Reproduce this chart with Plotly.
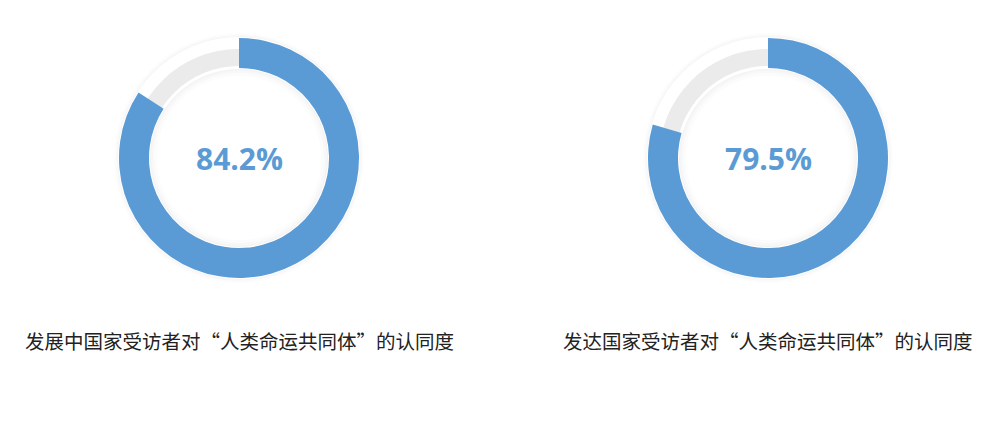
import plotly.graph_objects as go

# Data
labels = ["发展中国家受访者对“人类命运共同体”的认同度", "发达国家受访者对“人类命运共同体”的认同度"]
shares = [84.2, 79.5]

BLUE = "#5b9bd5"
GREY = "#ebebeb"
OFF = 8  # page body margin
W, H = 1000 - OFF, 447 - OFF

centers = [(239, 158), (768, 158)]
R_BLUE, R_GREY = 120, 109


def dom(cx, cy, r):
    cx, cy = cx - OFF, cy - OFF
    return dict(x=[(cx - r) / W, (cx + r) / W], y=[1 - (cy + r) / H, 1 - (cy - r) / H])


def ring(cx, cy, r_out, r_in, color):
    return go.Pie(
        values=[1], domain=dom(cx, cy, r_out), hole=r_in / r_out,
        marker=dict(colors=[color], line=dict(width=0)),
        textinfo="none", hoverinfo="skip", sort=False, showlegend=False,
    )


fig = go.Figure()
for (cx, cy), share, label in zip(centers, shares, labels):
    # soft shadow
    fig.add_trace(ring(cx, cy, 125, 82, "rgba(0,0,0,0.012)"))
    fig.add_trace(ring(cx, cy, 123, 85, "rgba(0,0,0,0.015)"))
    fig.add_trace(ring(cx, cy, 121.5, 87.5, "rgba(0,0,0,0.02)"))
    fig.add_trace(ring(cx, cy, 121, 89, "white"))
    # background track
    fig.add_trace(ring(cx, cy, R_GREY, 92, GREY))
    # value arc
    fig.add_trace(go.Pie(
        values=[share, 100 - share], domain=dom(cx, cy, R_BLUE), hole=90 / R_BLUE,
        marker=dict(colors=[BLUE, "rgba(0,0,0,0)"], line=dict(width=0)),
        direction="clockwise", rotation=0, sort=False,
        textinfo="none", hoverinfo="skip", showlegend=False,
    ))
    fig.add_annotation(
        x=(cx - OFF) / W, y=1 - (cy - OFF) / H, xref="paper", yref="paper",
        xanchor="center", yanchor="middle",
        text=f"<b>{share}%</b>", showarrow=False,
        font=dict(family="Open Sans", size=30, color=BLUE),
    )
    fig.add_annotation(
        x=(cx - OFF) / W, y=1 - (340 - OFF) / H, xref="paper", yref="paper",
        xanchor="center", yanchor="middle",
        text=label, showarrow=False,
        font=dict(family="Noto Sans CJK SC", size=19.5, color="#222222"),
    )

fig.update_layout(
    width=W, height=H,
    margin=dict(l=0, r=0, t=0, b=0),
    paper_bgcolor="white", plot_bgcolor="white",
)

fig.write_html("out.html")
